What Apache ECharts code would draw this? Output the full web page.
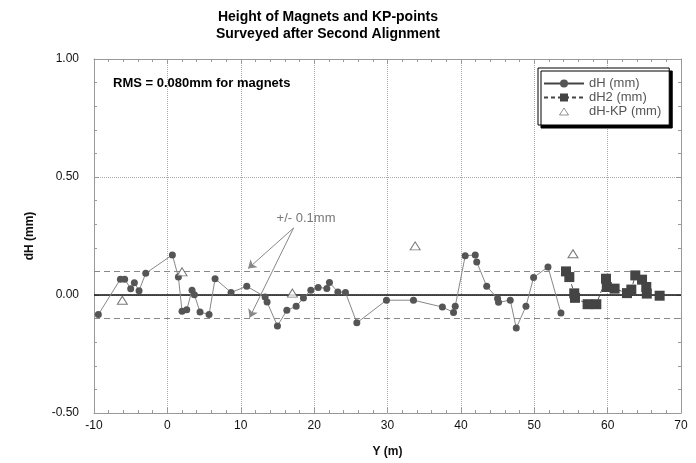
<!DOCTYPE html>
<html><head><meta charset="utf-8">
<script src="https://cdn.jsdelivr.net/npm/echarts@6/dist/echarts.min.js"></script>
<style>html,body{margin:0;padding:0;background:#fff}#c{width:696px;height:463px}</style>
</head><body><div id="c"></div>
<script>
const titleLines = ['Height of Magnets and KP-points', 'Surveyed after Second Alignment'];
const rmsText = 'RMS = 0.080mm for magnets';
const seriesNames = ['dH (mm)', 'dH2 (mm)', 'dH-KP (mm)'];
const xAxisName = 'Y (m)';
const yAxisName = 'dH (mm)';

// dH (magnets): [Y (m), dH (mm)]
const dH = [
  [-9.41,-0.083],[-6.40,0.067],[-5.82,0.067],[-5.00,0.027],[-4.50,0.052],[-3.86,0.018],
  [-2.95,0.092],[0.68,0.170],[1.50,0.076],[2.00,-0.069],[2.64,-0.063],[3.36,0.020],
  [3.68,0.001],[4.45,-0.072],[5.68,-0.083],[6.50,0.069],[8.68,0.011],[10.82,0.037],
  [13.32,-0.008],[13.59,-0.030],[15.00,-0.131],[16.28,-0.065],[17.55,-0.048],[18.54,-0.013],
  [19.55,0.020],[20.55,0.032],[21.73,0.028],[22.09,0.053],[23.23,0.013],[24.27,0.011],
  [25.82,-0.118],[29.86,-0.022],[33.54,-0.022],[37.48,-0.051],[39.00,-0.074],[39.23,-0.048],
  [40.59,0.166],[41.96,0.170],[42.16,0.140],[43.52,0.037],[45.00,-0.015],[45.13,-0.031],
  [46.73,-0.022],[47.55,-0.140],[48.87,-0.048],[49.91,0.074],[51.87,0.119],[53.64,-0.076]
];
// dH2: [Y (m), dH (mm)]
const dH2 = [
  [54.33,0.100],[54.78,0.076],[55.45,0.007],[55.55,-0.012],[57.27,-0.039],[58.46,-0.039],
  [59.78,0.069],[59.89,0.034],[60.95,0.027],[62.64,0.008],[63.23,0.023],[63.77,0.083],
  [64.69,0.065],[65.27,0.034],[65.34,0.006],[67.09,-0.003]
];
// dH-KP: [Y (m), dH (mm)]
const dHKP = [
  [-6.14,-0.022],[2.00,0.098],[17.04,0.008],[33.77,0.208],[55.28,0.175]
];
const toleranceLevels = [0.1, -0.1];
const annotationText = '+/- 0.1mm';
const annotationFrom = [17.2, 0.284];
const annotationTo = [[11.0, 0.112], [11.2, -0.096]];
const annotationTextAt = [18.9, 0.325];

const FF = '"Liberation Sans", Arial, sans-serif';
const frameColor = '#999';

function axisCommon(isX, main) {
  return {
    type: 'value',
    min: isX ? -10 : -0.5,
    max: isX ? 70 : 1,
    interval: isX ? 10 : 0.5,
    axisLine: { show: true, onZero: false, lineStyle: { color: frameColor, width: 1 } },
    axisTick: { show: true, inside: true, length: 5, lineStyle: { color: frameColor } },
    minorTick: { show: true, splitNumber: 5, length: 3, lineStyle: { color: frameColor } },
    axisLabel: main ? {
      color: '#111', fontSize: 12, fontFamily: FF, margin: isX ? 7 : 15,
      formatter: isX ? (v => String(v)) : (v => v.toFixed(2))
    } : { show: false },
    splitLine: main ? { show: true, lineStyle: { type: 'dotted', color: '#aaa', width: 1 } } : { show: false },
    minorSplitLine: { show: false }
  };
}

const xMain = Object.assign(axisCommon(true, true), {
  position: 'bottom', name: xAxisName, nameLocation: 'middle', nameGap: 33,
  nameTextStyle: { fontWeight: 'bold', fontSize: 12, color: '#111', fontFamily: FF }
});
const xTop = Object.assign(axisCommon(true, false), { position: 'top' });
const yMain = Object.assign(axisCommon(false, true), {
  position: 'left', name: yAxisName, nameLocation: 'middle', nameGap: 58, nameRotate: 90,
  nameTextStyle: { fontWeight: 'bold', fontSize: 12, color: '#111', fontFamily: FF }
});
const yRight = Object.assign(axisCommon(false, false), { position: 'right' });

const triangleIcon = 'path://M0,0M40,10M20,1.5L24.5,8.5L15.5,8.5Z';

const chart = echarts.init(document.getElementById('c'), null, { renderer: 'canvas' });
chart.setOption({
  animation: false,
  backgroundColor: '#fff',
  grid: { left: 94, right: 15, top: 59, bottom: 50, containLabel: false },
  xAxis: [xMain, xTop],
  yAxis: [yMain, yRight],
  legend: {
    orient: 'vertical', left: 538, top: 68,
    padding: [9, 8, 7, 5], itemGap: 1, itemWidth: 40, itemHeight: 10,
    backgroundColor: '#fff', borderColor: '#000', borderWidth: 1,
    shadowColor: '#000', shadowBlur: 0, shadowOffsetX: 3, shadowOffsetY: 3,
    textStyle: { color: '#555', fontSize: 13, fontFamily: FF },
    data: [
      { name: seriesNames[0], lineStyle: { color: '#444' } },
      { name: seriesNames[1], lineStyle: { color: '#444' } },
      { name: seriesNames[2], icon: triangleIcon, itemStyle: { borderWidth: 0.8 } }
    ]
  },
  graphic: [
    { type: 'text', silent: true, z: 100,
      style: { text: titleLines[0], x: 328, y: 17, textAlign: 'center', textVerticalAlign: 'middle',
        font: 'bold 14px ' + FF, fill: '#000' } },
    { type: 'text', silent: true, z: 100,
      style: { text: titleLines[1], x: 328, y: 34, textAlign: 'center', textVerticalAlign: 'middle',
        font: 'bold 14px ' + FF, fill: '#000' } },
    { type: 'text', silent: true, z: 100,
      style: { text: rmsText, x: 113, y: 83, textAlign: 'left', textVerticalAlign: 'middle',
        font: 'bold 13px ' + FF, fill: '#000' } }
  ],
  series: [
    {
      name: seriesNames[0], type: 'line', data: dH, z: 5,
      symbol: 'circle', symbolSize: 7, showSymbol: true,
      itemStyle: { color: '#555' },
      lineStyle: { color: '#888', width: 1 },
      markLine: {
        silent: true, symbol: 'none', label: { show: false }, animation: false,
        data: [
          { yAxis: 0, lineStyle: { color: '#111', width: 1.5, type: 'solid' } },
          ...toleranceLevels.map(v => ({ yAxis: v, lineStyle: { color: '#888', width: 1, type: [6, 4] } }))
        ]
      }
    },
    {
      name: seriesNames[1], type: 'line', data: dH2, z: 5,
      symbol: 'rect', symbolSize: 10, showSymbol: true,
      itemStyle: { color: '#444' },
      lineStyle: { color: '#555', width: 1, type: [4, 3] },
      markLine: {
        silent: true, symbol: ['none', 'arrow'], symbolSize: 8, label: { show: false },
        lineStyle: { color: '#888', width: 1, type: 'solid' },
        itemStyle: { color: '#888' },
        data: annotationTo.map(t => [{ coord: annotationFrom }, { coord: t }])
      },
      markPoint: {
        silent: true,
        data: [{ coord: annotationTextAt, symbol: 'circle', symbolSize: 1,
          itemStyle: { color: 'rgba(0,0,0,0)' },
          label: { show: true, position: 'inside', formatter: annotationText, color: '#777', fontSize: 13, fontFamily: FF } }]
      }
    },
    {
      name: seriesNames[2], type: 'scatter', data: dHKP, z: 6,
      symbol: 'triangle', symbolSize: [10, 8],
      itemStyle: { color: '#fff', borderColor: '#555', borderWidth: 1 }
    }
  ]
});
</script></body></html>
